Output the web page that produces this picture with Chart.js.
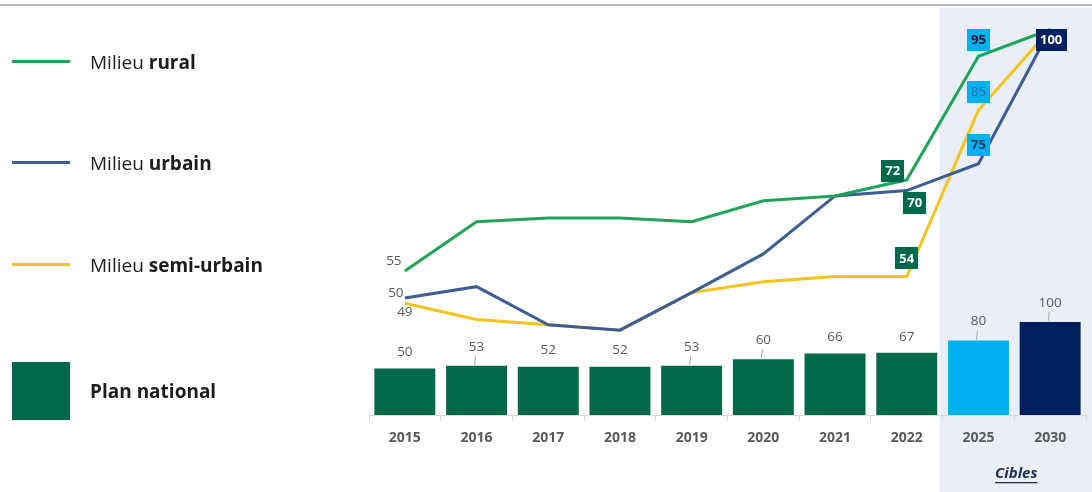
<!DOCTYPE html>
<html>
<head>
<meta charset="utf-8">
<script src="https://cdn.jsdelivr.net/npm/chart.js@4.4.1/dist/chart.umd.min.js"></script>
<style>
  html, body { margin: 0; padding: 0; background: #fff; }
  #wrap { position: relative; width: 1092px; height: 492px; overflow: hidden; }
  #chart { position: absolute; left: 0; top: 0; }
  #topRule { position: absolute; left: 0; top: 4px; width: 1092px; height: 2px; background: #b7b7b7; z-index: 2; }
  .legItem { position: absolute; left: 0; height: 40px; width: 340px; z-index: 2; }
  .legLine { position: absolute; left: 12px; width: 58px; height: 3px; top: 18px; }
  .legBox { position: absolute; left: 12px; width: 58px; height: 58px; top: -9px; }
  .legText { position: absolute; left: 90px; top: 0; line-height: 40px; font-family: 'Open Sans', sans-serif; font-size: 19px; color: #1c1c1c; white-space: nowrap; }
  .legText b { font-weight: 700; }
</style>
</head>
<body>
<div id="wrap">
  <div id="topRule"></div>
  <div class="legItem" style="top:42px"><div class="legLine" style="background:#1ea55a"></div><div class="legText">Milieu <b>rural</b></div></div>
  <div class="legItem" style="top:143px"><div class="legLine" style="background:#3d5d95"></div><div class="legText">Milieu <b>urbain</b></div></div>
  <div class="legItem" style="top:245px"><div class="legLine" style="background:#f4c31c"></div><div class="legText">Milieu <b>semi-urbain</b></div></div>
  <div class="legItem" style="top:371px"><div class="legBox" style="background:#00684b"></div><div class="legText"><b>Plan national</b></div></div>
  <canvas id="chart" width="1092" height="492"></canvas>
</div>
<script>
// Years on the axis; the last two are target years
const years = ['2015', '2016', '2017', '2018', '2019', '2020', '2021', '2022', '2025', '2030'];
const firstTargetIndex = 8;

// National plan (bars)
const planNational = [50, 53, 52, 52, 53, 60, 66, 67, 80, 100];

// Lines by area type
const milieuRural = [55, 64.2, 64.9, 64.9, 64.2, 68.1, 69, 72, 95, 100];
const milieuUrbain = [50, 52.1, 45, 44, 51, 58.2, 69, 70, 75, 100];
const milieuSemiUrbain = [49, 46, 45, 44, 51, 53, 54, 54, 85, 100];

// Colours
const GREEN_BAR = '#00684b';
const LIGHT_BLUE = '#00b0f0';
const NAVY = '#002060';
const barColors = years.map((y, i) => i < firstTargetIndex ? GREEN_BAR : (i === firstTargetIndex ? LIGHT_BLUE : NAVY));

// Which bar labels get a short leader line
const barLeader = [false, true, false, false, true, true, false, false, true, true];

// Point-label styles per line: index -> {kind, dx, dy, bg, fg, bold}
const ruralLabels = {
  0: { kind: 'plain', dx: -11, dy: -10 },
  7: { kind: 'box', dx: -14, dy: -9, bg: GREEN_BAR, fg: '#ffffff', bold: true },
  8: { kind: 'box', dx: 0, dy: -16.5, bg: LIGHT_BLUE, fg: '#101828', bold: true }
};
const urbainLabels = {
  0: { kind: 'plain', dx: -9, dy: -5 },
  7: { kind: 'box', dx: 8, dy: 12, bg: GREEN_BAR, fg: '#ffffff', bold: true },
  8: { kind: 'box', dx: 0, dy: -18.5, bg: LIGHT_BLUE, fg: '#1f3864', bold: true },
  9: { kind: 'box', dx: 1, dy: 10.5, bg: NAVY, fg: '#ffffff', bold: true }
};
const semiLabels = {
  0: { kind: 'plain', dx: 0, dy: 9 },
  7: { kind: 'box', dx: 0, dy: -18, bg: GREEN_BAR, fg: '#ffffff', bold: true },
  8: { kind: 'box', dx: 0, dy: -18, bg: LIGHT_BLUE, fg: '#2e6aa3', bold: false }
};

const FONT = "'Open Sans', sans-serif";

// Shaded band behind the target years, plus the "Cibles" caption
const targetBand = {
  id: 'targetBand',
  beforeDraw(chart) {
    const { ctx, scales: { x }, chartArea } = chart;
    const half = (x.getPixelForValue(1) - x.getPixelForValue(0)) / 2;
    const left = x.getPixelForValue(firstTargetIndex) - half - 3;
    ctx.save();
    ctx.fillStyle = '#e9eef7';
    ctx.fillRect(left, chartArea.top, chart.width - left, chart.height - chartArea.top);
    ctx.restore();
  },
  afterDraw(chart) {
    const { ctx, scales: { x } } = chart;
    const cx = (x.getPixelForValue(firstTargetIndex) + x.getPixelForValue(years.length - 1)) / 2 + 2;
    const cy = 474;
    ctx.save();
    ctx.font = "italic 700 15px " + FONT;
    ctx.fillStyle = '#1f2f52';
    ctx.textAlign = 'center';
    ctx.textBaseline = 'middle';
    ctx.fillText('Cibles', cx, cy);
    const w = ctx.measureText('Cibles').width;
    ctx.fillRect(cx - w / 2, cy + 8, w, 1.3);
    ctx.restore();
  }
};

// Values above the bars
const barValues = {
  id: 'barValues',
  afterDatasetsDraw(chart) {
    const { ctx } = chart;
    const meta = chart.getDatasetMeta(0);
    ctx.save();
    ctx.font = "13.5px " + FONT;
    ctx.fillStyle = '#595959';
    ctx.textAlign = 'center';
    ctx.textBaseline = 'middle';
    meta.data.forEach((bar, i) => {
      const lift = barLeader[i] ? 19 : 16;
      ctx.fillText(String(planNational[i]), bar.x, bar.y - lift);
      if (barLeader[i]) {
        ctx.strokeStyle = '#a6a6a6';
        ctx.lineWidth = 1;
        ctx.beginPath();
        ctx.moveTo(bar.x - 1, bar.y - 10);
        ctx.lineTo(bar.x - 2, bar.y - 1);
        ctx.stroke();
      }
    });
    ctx.restore();
  }
};

// Labels on the line points
const lineLabels = {
  id: 'lineLabels',
  afterDatasetsDraw(chart) {
    const { ctx } = chart;
    const sets = [[3, semiLabels], [2, urbainLabels], [1, ruralLabels]];
    ctx.save();
    ctx.textAlign = 'center';
    ctx.textBaseline = 'middle';
    sets.forEach(([di, styles]) => {
      const meta = chart.getDatasetMeta(di);
      const data = chart.data.datasets[di].data;
      Object.keys(styles).forEach(k => {
        const i = Number(k);
        const s = styles[i];
        const pt = meta.data[i];
        const cx = pt.x + s.dx, cy = pt.y + s.dy;
        const txt = String(data[i]);
        if (s.kind === 'plain') {
          ctx.font = "13.5px " + FONT;
          ctx.fillStyle = '#595959';
          ctx.fillText(txt, cx, cy);
        } else {
          const w = txt.length > 2 ? 31 : 23, h = 22;
          ctx.fillStyle = s.bg;
          ctx.fillRect(Math.round(cx - w / 2), Math.round(cy - h / 2), w, h);
          ctx.font = (s.bold ? "700 " : "400 ") + "13px " + FONT;
          ctx.fillStyle = s.fg;
          ctx.fillText(txt, cx, cy + 0.5);
        }
      });
    });
    ctx.restore();
  }
};

new Chart(document.getElementById('chart'), {
  data: {
    labels: years,
    datasets: [
      { type: 'bar', label: 'Plan national', data: planNational, backgroundColor: barColors,
        yAxisID: 'y', barPercentage: 0.85, categoryPercentage: 1, order: 4 },
      { type: 'line', label: 'Milieu rural', data: milieuRural, borderColor: '#1ea55a',
        borderWidth: 3, pointRadius: 0, tension: 0, yAxisID: 'y1', order: 1 },
      { type: 'line', label: 'Milieu urbain', data: milieuUrbain, borderColor: '#3d5d95',
        borderWidth: 3, pointRadius: 0, tension: 0, yAxisID: 'y1', order: 2 },
      { type: 'line', label: 'Milieu semi-urbain', data: milieuSemiUrbain, borderColor: '#f4c31c',
        borderWidth: 3, pointRadius: 0, tension: 0, yAxisID: 'y1', order: 3 }
    ]
  },
  options: {
    responsive: false,
    animation: false,
    layout: { padding: { left: 369, right: 6, top: 8, bottom: 0 } },
    plugins: { legend: { display: false }, tooltip: { enabled: false } },
    scales: {
      x: {
        type: 'category',
        offset: true,
        grid: { display: true, drawOnChartArea: false, drawTicks: true, tickLength: 6, color: '#d9d9d9', offset: true },
        border: { display: true, color: '#d9d9d9', width: 1 },
        ticks: { color: '#595959', font: { family: FONT, size: 14, weight: '700' }, padding: 9, maxRotation: 0 },
        afterFit(scale) { scale.height = 77; }
      },
      y: { display: false, min: 0, max: 437.6 },
      y1: { display: false, min: 28.2, max: 104.0 }
    }
  },
  plugins: [targetBand, barValues, lineLabels]
});
</script>
</body>
</html>
